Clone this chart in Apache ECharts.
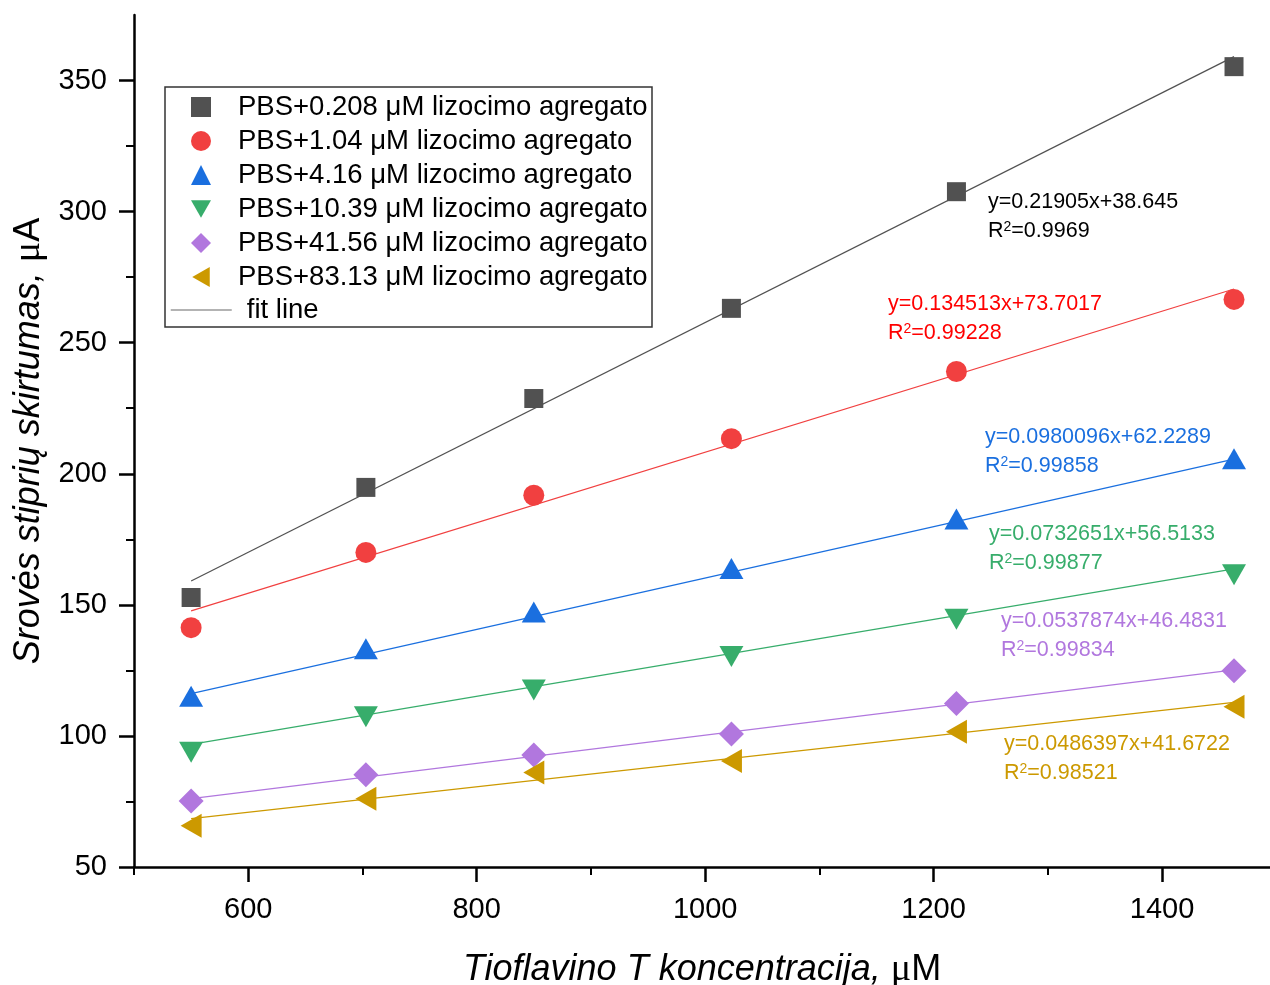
<!DOCTYPE html>
<html>
<head>
<meta charset="utf-8">
<title>Srovės stiprių skirtumas</title>
<script src="https://cdn.jsdelivr.net/npm/echarts@6/dist/echarts.min.js"></script>
<style>
  html, body { margin: 0; padding: 0; background: #fff; overflow: hidden; }
  #chart { width: 1270px; height: 985px; }
</style>
</head>
<body>
<div id="chart"></div>
<script>
// Thioflavin T concentration (µM)
const concentrations = [550, 703, 850, 1023, 1220, 1463];

const seriesNames = [
  'PBS+0.208 μM lizocimo agregato',
  'PBS+1.04 μM lizocimo agregato',
  'PBS+4.16 μM lizocimo agregato',
  'PBS+10.39 μM lizocimo agregato',
  'PBS+41.56 μM lizocimo agregato',
  'PBS+83.13 μM lizocimo agregato'
];

// Current difference (µA) for each aggregate concentration
const current0208 = [152.8, 194.8, 228.7, 263.1, 307.6, 355.3];
const current104  = [141.3, 170.0, 191.8, 213.4, 239.0, 266.5];
const current416  = [115.1, 133.3, 147.3, 163.9, 182.7, 205.7];
const current1039 = [93.8, 107.3, 117.5, 130.3, 144.5, 161.5];
const current4156 = [75.2, 85.2, 92.7, 100.7, 112.4, 124.9];
const current8313 = [65.7, 76.0, 86.0, 90.4, 101.6, 111.1];

// Linear fit parameters y = slope * x + intercept
const slopes     = [0.21905, 0.134513, 0.0980096, 0.0732651, 0.0537874, 0.0486397];
const intercepts = [38.645, 73.7017, 62.2289, 56.5133, 46.4831, 41.6722];
const slopeText     = ['0.21905', '0.134513', '0.0980096', '0.0732651', '0.0537874', '0.0486397'];
const interceptText = ['38.645', '73.7017', '62.2289', '56.5133', '46.4831', '41.6722'];
const r2Text        = ['0.9969', '0.99228', '0.99858', '0.99877', '0.99834', '0.98521'];

// Axis tick values
const xMajorTicks = [600, 800, 1000, 1200, 1400];
const xMinorTicks = [500, 700, 900, 1100, 1300];
const yMajorTicks = [50, 100, 150, 200, 250, 300, 350];
const yMinorTicks = [75, 125, 175, 225, 275, 325];

const allCurrents = [current0208, current104, current416, current1039, current4156, current8313];

const colors = ['#515151', '#F14040', '#1A6FDF', '#37AD6B', '#B177DE', '#CC9900'];
const textColors = ['#000000', '#FF0000', '#1A6FDF', '#37AD6B', '#B177DE', '#CC9900'];
const symbols = ['rect', 'circle', 'triangle', 'triangle', 'diamond', 'triangle'];
const symbolSizes = [19, 21, [24, 21], [24, 21], 25, [24, 21]];
const symbolRotates = [0, 0, 0, 180, 0, 90];
// legend icons (pre-rotated shapes where needed)
const legendIcons = [
  'rect', 'circle', 'triangle',
  'path://M0,0 L24,0 L12,21 Z',
  'diamond',
  'path://M0,12 L21,0 L21,24 Z'
];

// Equation label placement (left edge, centre of first line)
const labelPos = [[988, 202], [888, 304], [985, 437], [989, 534], [1001, 621], [1004, 744]];

const FONT = "'Liberation Sans', Arial, Helvetica, sans-serif";

const series = [];
allCurrents.forEach((vals, i) => {
  series.push({
    name: seriesNames[i],
    type: 'scatter',
    xAxisIndex: 0, yAxisIndex: 0,
    symbol: symbols[i],
    symbolSize: symbolSizes[i],
    symbolRotate: symbolRotates[i],
    itemStyle: { color: colors[i], opacity: 1 },
    z: 5,
    data: concentrations.map((x, k) => [x, vals[k]])
  });
});
allCurrents.forEach((vals, i) => {
  const x0 = concentrations[0];
  const x1 = concentrations[concentrations.length - 1];
  series.push({
    name: 'fit ' + (i + 1),
    type: 'line',
    xAxisIndex: 0, yAxisIndex: 0,
    symbol: 'none',
    silent: true,
    lineStyle: { color: colors[i], width: 1.2 },
    z: 3,
    data: [[x0, slopes[i] * x0 + intercepts[i]], [x1, slopes[i] * x1 + intercepts[i]]]
  });
});
// legend entry for the fit lines
series.push({
  name: 'fit line',
  type: 'line',
  symbol: 'none',
  lineStyle: { color: '#9a9a9a', width: 1.5 },
  itemStyle: { color: 'rgba(0,0,0,0)' },
  data: []
});

const graphics = [{
  type: 'rect', z: 0,
  shape: { x: 165, y: 87, width: 487, height: 240 },
  style: { fill: '#fff', stroke: '#333', lineWidth: 1.5 }
}];
labelPos.forEach((p, i) => {
  graphics.push({
    type: 'text', x: p[0], y: p[1], z: 10,
    style: {
      text: 'y=' + slopeText[i] + 'x+' + interceptText[i],
      fill: textColors[i], fontSize: 21.5, fontFamily: FONT,
      verticalAlign: 'middle'
    }
  });
  graphics.push({
    type: 'text', x: p[0], y: p[1] + 29, z: 10,
    style: {
      text: '{a|R}{s|2}{a|=' + r2Text[i] + '}',
      verticalAlign: 'middle',
      fill: textColors[i],
      rich: {
        a: { fontSize: 21.5, fontFamily: FONT, fill: textColors[i] },
        s: { fontSize: 14, fontFamily: FONT, fill: textColors[i], verticalAlign: 'top', padding: [0, 0, 8, 0] }
      }
    }
  });
});

const axisLineStyle = { color: '#000', width: 2.5 };
const legendText = { fontSize: 27.5, color: '#000', fontFamily: FONT };

const option = {
  animation: false,
  backgroundColor: '#fff',
  grid: { left: 134, right: 0, top: 15, bottom: 118, containLabel: false, outerBoundsMode: 'none' },
  legend: [{
    orient: 'vertical',
    left: 191, top: 93,
    padding: 0,
    itemGap: 6,
    itemWidth: 20,
    itemHeight: 20,
    textStyle: Object.assign({ padding: [0, 0, 0, 22] }, legendText),
    data: seriesNames.map((n, i) => ({ name: n, icon: legendIcons[i] }))
  }, {
    orient: 'vertical',
    left: 170, top: 296,
    padding: 0,
    itemWidth: 61,
    itemHeight: 20,
    textStyle: Object.assign({ padding: [0, 0, 0, 10] }, legendText),
    data: [{ name: 'fit line', itemStyle: { color: 'rgba(0,0,0,0)' }, lineStyle: { color: '#9a9a9a', width: 1.5 } }]
  }],
  xAxis: [{
    type: 'value', min: 500, max: 1494.5, interval: 100,
    position: 'bottom',
    name: '{i|Tioflavino T koncentracija, }{u|μ}{m|M}',
    nameLocation: 'middle',
    nameGap: 84,
    nameTextStyle: {
      rich: {
        i: { fontSize: 36, fontStyle: 'italic', fontFamily: FONT, color: '#000' },
        u: { fontSize: 38, fontFamily: "'Liberation Serif', serif", color: '#000' },
        m: { fontSize: 36, fontFamily: FONT, color: '#000' }
      }
    },
    axisLine: { show: true, onZero: false, lineStyle: axisLineStyle },
    axisTick: { show: true, inside: false, length: 15, lineStyle: { width: 2.5, color: '#000' }, customValues: xMajorTicks },
    axisLabel: { fontSize: 29, color: '#000', fontFamily: FONT, margin: 28, customValues: xMajorTicks, formatter: v => String(v) },
    splitLine: { show: false }
  }, {
    type: 'value', min: 500, max: 1494.5, interval: 100,
    position: 'bottom',
    axisLine: { show: false },
    axisTick: { show: true, inside: false, length: 8, lineStyle: { width: 2, color: '#000' }, customValues: xMinorTicks },
    axisLabel: { show: false },
    splitLine: { show: false }
  }],
  yAxis: [{
    type: 'value', min: 50, max: 375, interval: 50,
    position: 'left',
    name: '{i|Srovės stiprių skirtumas, }{u|μ}{m|A}',
    nameLocation: 'middle',
    nameGap: 86,
    nameRotate: 90,
    nameTextStyle: {
      rich: {
        i: { fontSize: 36, fontStyle: 'italic', fontFamily: FONT, color: '#000' },
        u: { fontSize: 38, fontFamily: "'Liberation Serif', serif", color: '#000' },
        m: { fontSize: 36, fontFamily: FONT, color: '#000' }
      }
    },
    axisLine: { show: true, onZero: false, lineStyle: axisLineStyle },
    axisTick: { show: true, inside: false, length: 15, lineStyle: { width: 2.5, color: '#000' }, customValues: yMajorTicks },
    axisLabel: { fontSize: 29, color: '#000', fontFamily: FONT, margin: 27, customValues: yMajorTicks },
    splitLine: { show: false }
  }, {
    type: 'value', min: 50, max: 375, interval: 50,
    position: 'left',
    axisLine: { show: false },
    axisTick: { show: true, inside: false, length: 8, lineStyle: { width: 2, color: '#000' }, customValues: yMinorTicks },
    axisLabel: { show: false },
    splitLine: { show: false }
  }],
  graphic: graphics,
  series: series
};

const chart = echarts.init(document.getElementById('chart'), null, { renderer: 'canvas' });
chart.setOption(option);
</script>
</body>
</html>
